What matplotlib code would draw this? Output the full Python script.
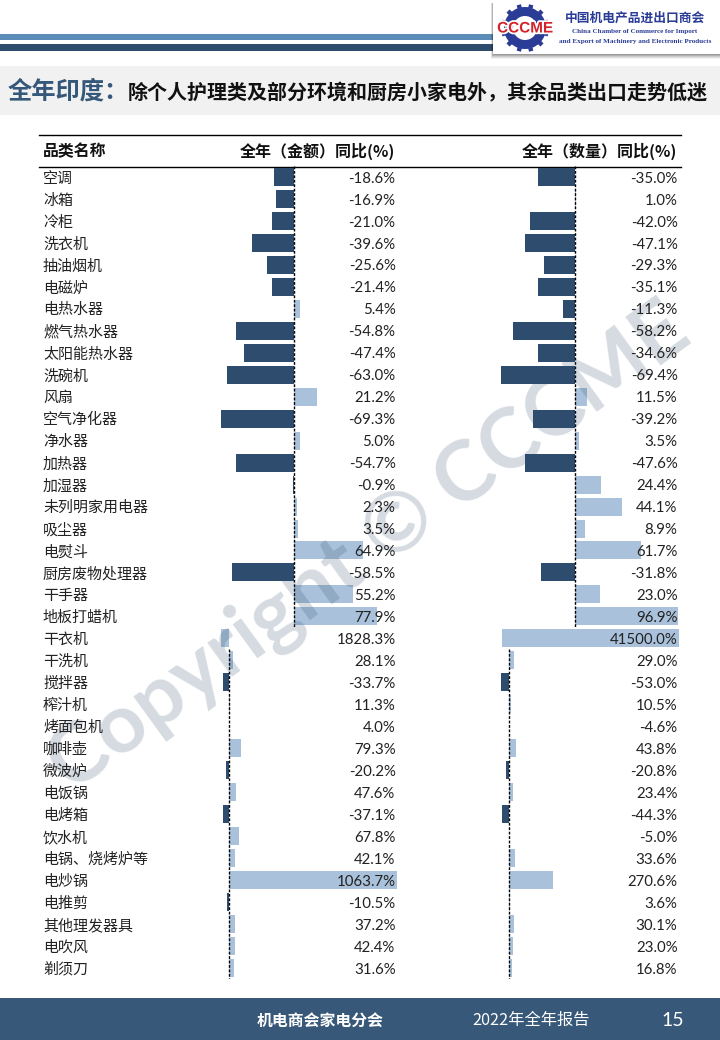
import math
import matplotlib
matplotlib.use("Agg")
import matplotlib.pyplot as plt
import matplotlib.patheffects as pe
from matplotlib.patches import Rectangle, Wedge

plt.rcParams['font.family'] = ['Noto Sans CJK SC', 'DejaVu Sans']

W, H = 720, 1040
DARK = '#2E4C6D'
LIGHT = '#A9C1DA'

categories = ['空调','冰箱','冷柜','洗衣机','抽油烟机','电磁炉','电热水器','燃气热水器','太阳能热水器','洗碗机','风扇','空气净化器','净水器','加热器','加湿器','未列明家用电器','吸尘器','电熨斗','厨房废物处理器','干手器','地板打蜡机','干衣机','干洗机','搅拌器','榨汁机','烤面包机','咖啡壶','微波炉','电饭锅','电烤箱','饮水机','电锅、烧烤炉等','电炒锅','电推剪','其他理发器具','电吹风','剃须刀']
amount = [-18.6,-16.9,-21.0,-39.6,-25.6,-21.4,5.4,-54.8,-47.4,-63.0,21.2,-69.3,5.0,-54.7,-0.9,2.3,3.5,64.9,-58.5,55.2,77.9,1828.3,28.1,-33.7,11.3,4.0,79.3,-20.2,47.6,-37.1,67.8,42.1,1063.7,-10.5,37.2,42.4,31.6]
quantity = [-35.0,1.0,-42.0,-47.1,-29.3,-35.1,-11.3,-58.2,-34.6,-69.4,11.5,-39.2,3.5,-47.6,24.4,44.1,8.9,61.7,-31.8,23.0,96.9,41500.0,29.0,-53.0,10.5,-4.6,43.8,-20.8,23.4,-44.3,-5.0,33.6,270.6,3.6,30.1,23.0,16.8]
# the oversized 干衣机 row is drawn with a different extent in the source
amount_bar = amount[:21] + [-50.0] + amount[22:]
quantity_bar = quantity[:21] + [1106.0] + quantity[22:]
quantity_left = [0.0] * 21 + [-46.0] + [0.0] * 15
amount_left = [0.0] * 37

fig = plt.figure(figsize=(W/100, H/100), dpi=100)
bg = fig.add_axes([0, 0, 1, 1])
bg.set_xlim(0, W); bg.set_ylim(H, 0); bg.axis('off')

bg.add_patch(Rectangle((0, 34), 500, 6, color='#5B8DB8', lw=0))
bg.add_patch(Rectangle((0, 44), 500, 7, color='#2E4C6D', lw=0))
bg.add_patch(Rectangle((0, 66), W, 49, color='#F1F1F1', lw=0))
bg.text(8, 92, '全年印度：', fontsize=17.5, fontweight='bold', color='#35577A', va='center')
bg.text(128, 93, '除个人护理类及部分环境和厨房小家电外，其余品类出口走势低迷', fontsize=14.4, fontweight='bold', color='#111111', va='center')

# logo box with a soft shadow
for off, a in [(5, 0.05), (4, 0.07), (3, 0.09), (2, 0.12), (1, 0.14)]:
    bg.add_patch(Rectangle((493 - off * 0.5, 3), 227 + off, 51 + off, color='black', alpha=a, lw=0))
bg.add_patch(Rectangle((493, 2), 227, 52, color='white', lw=0))
cx, cy = 525, 28
bg.add_patch(Wedge((cx, cy), 21, 0, 360, width=9, color='#2A3C96', lw=0))
for k in range(12):
    t = math.radians(k * 30 + 15)
    bg.plot([cx + 19 * math.cos(t), cx + 24 * math.cos(t)], [cy + 19 * math.sin(t), cy + 24 * math.sin(t)],
            color='#2A3C96', lw=3.2, solid_capstyle='butt')
bg.text(cx, cy + 0.5, 'CCCME', fontsize=11, fontweight='bold', color='#D2232A', ha='center', va='center',
        family=['Liberation Sans'], path_effects=[pe.withStroke(linewidth=2.5, foreground='white')])
bg.text(635, 18, '中国机电产品进出口商会', fontsize=9.2, fontweight='bold', color='#2A3C96', ha='center', va='center')
bg.text(635, 32, 'China Chamber of Commerce for Import', fontsize=5.15, fontweight='bold', color='#2A3C96', ha='center', va='center', family=['Liberation Serif'])
bg.text(635, 41, 'and Export of Machinery and Electronic Products', fontsize=5.15, fontweight='bold', color='#2A3C96', ha='center', va='center', family=['Liberation Serif'])

# table frame
bg.plot([39, 681], [134.5, 134.5], color='black', lw=1.0)
bg.plot([39, 681], [166.5, 166.5], color='black', lw=1.0)
bg.text(43, 151, '品类名称', fontsize=11.4, fontweight='bold', va='center', color='#111111')
bg.text(395, 151, '全年（金额）同比(%)', fontsize=11.5, fontweight='bold', va='center', ha='right', color='#111111')
bg.text(677, 151, '全年（数量）同比(%)', fontsize=11.5, fontweight='bold', va='center', ha='right', color='#111111')

TOP = 21
row0, step = 177.0, 21.97
ys = [row0 + i * step for i in range(len(categories))]

def panel(values, lefts, labels, start, stop, x0, px_per_unit):
    """One bar block in its own axes, positioned so that zero falls at pixel x0."""
    left, right = x0 - 80, x0 + 175
    ytop = ys[start] - step / 2
    ybot = ys[stop - 1] + step / 2
    ax = fig.add_axes([left / W, 1 - ybot / H, (right - left) / W, (ybot - ytop) / H])
    ax.patch.set_alpha(0)
    ax.set_xlim(-80 / px_per_unit, 175 / px_per_unit)
    ax.set_ylim(stop - 0.5, start - 0.5)
    ax.axis('off')
    rows = list(range(start, stop))
    ax.barh(rows, values[start:stop], left=lefts[start:stop], height=0.82,
            color=[DARK if v < 0 else LIGHT for v in labels[start:stop]], lw=0)
    # the second block's zero line begins below its first, oversized row
    first = start - 0.5 if start == 0 else start + 0.5
    ax.vlines(0, first, stop - 0.5, color='black', lw=1, linestyles=(0, (2, 1.2)))
    return ax

panel(amount_bar, amount_left, amount, 0, TOP, 294.2, 1.06)
panel(amount_bar, amount_left, amount, TOP, len(categories), 228.7, 0.158)
panel(quantity_bar, quantity_left, quantity, 0, TOP, 575.2, 1.065)
panel(quantity_bar, quantity_left, quantity, TOP, len(categories), 509.3, 0.16)

lab = fig.add_axes([0, 0, 1, 1]); lab.set_xlim(0, W); lab.set_ylim(H, 0); lab.axis('off'); lab.patch.set_alpha(0)

lab.text(369, 548, 'Copyright © CCCME', fontsize=60, fontweight='bold', color=DARK, alpha=0.2, rotation=36,
         ha='center', va='center', rotation_mode='anchor', family=['Lato'], zorder=1)

for i, c in enumerate(categories):
    lab.text(43, ys[i] + 1.6, c, fontsize=10.8, va='center', color='#222222', zorder=5)
    lab.text(395.5, ys[i] + 1.6, f'{amount[i]:.1f}%', fontsize=10.8, ha='right', va='center', color='#222222', family=['Lato'], zorder=5)
    lab.text(677.5, ys[i] + 1.6, f'{quantity[i]:.1f}%', fontsize=10.8, ha='right', va='center', color='#222222', family=['Lato'], zorder=5)

lab.add_patch(Rectangle((0, 998), W, 42, color='#375878', lw=0, zorder=6))
lab.text(320, 1021, '机电商会家电分会', fontsize=11.4, fontweight='bold', color='white', ha='center', va='center', zorder=7)
lab.text(531, 1020, '2022年全年报告', fontsize=11.7, color='white', ha='center', va='center', zorder=7)
lab.text(673, 1021, '15', fontsize=14, color='white', ha='center', va='center', family=['Lato'], zorder=7)

fig.savefig('out.png', dpi=100)
